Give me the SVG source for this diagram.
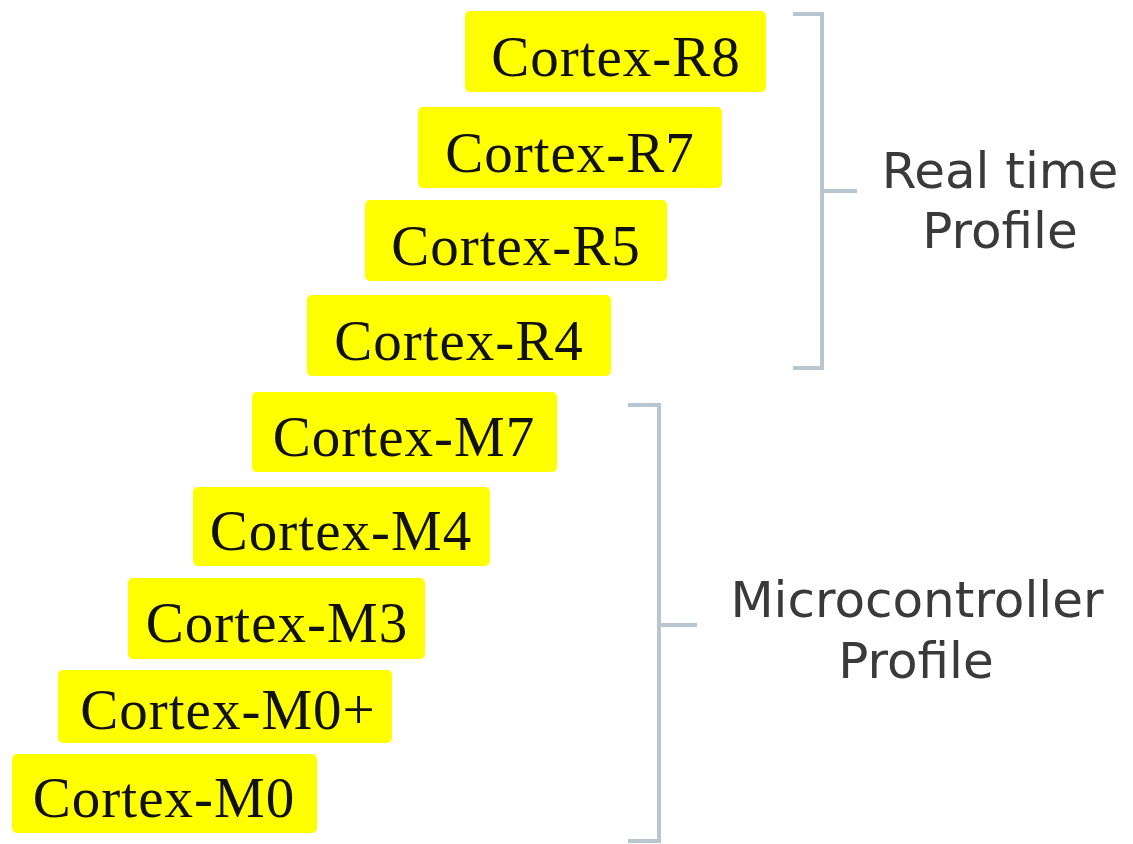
<svg xmlns="http://www.w3.org/2000/svg" width="1133" height="844" viewBox="0 0 1133 844">
<style>
.box{fill:#ffff00;}
.t{font-family:"Liberation Serif","Times New Roman",serif;font-size:57px;fill:#111;text-anchor:middle;letter-spacing:1px;}
.lbl{font-family:"DejaVu Sans",sans-serif;font-size:50px;fill:#3a3a3a;text-anchor:middle;}
.br{fill:none;stroke:#b8c6cf;stroke-width:4;}
</style>
<rect width="1133" height="844" fill="#ffffff"/>
<g id="cortex-r8"><rect class="box" x="465" y="11" width="301" height="81" rx="5"/><text class="t" x="616" y="76">Cortex-R8</text></g>
<g id="cortex-r7"><rect class="box" x="418" y="107" width="304" height="81" rx="5"/><text class="t" x="570" y="172">Cortex-R7</text></g>
<g id="cortex-r5"><rect class="box" x="365" y="200" width="302" height="81" rx="5"/><text class="t" x="516" y="265">Cortex-R5</text></g>
<g id="cortex-r4"><rect class="box" x="307" y="295" width="304" height="81" rx="5"/><text class="t" x="459" y="360">Cortex-R4</text></g>
<g id="cortex-m7"><rect class="box" x="252" y="392" width="305" height="80" rx="5"/><text class="t" x="404" y="456">Cortex-M7</text></g>
<g id="cortex-m4"><rect class="box" x="193" y="487" width="297" height="79" rx="5"/><text class="t" x="341" y="550">Cortex-M4</text></g>
<g id="cortex-m3"><rect class="box" x="128" y="578" width="297" height="81" rx="5"/><text class="t" x="277" y="642">Cortex-M3</text></g>
<g id="cortex-m0plus"><rect class="box" x="58" y="670" width="334" height="73" rx="5"/><text class="t" x="228" y="729">Cortex-M0+</text></g>
<g id="cortex-m0"><rect class="box" x="12" y="754" width="305" height="79" rx="5"/><text class="t" x="164" y="817">Cortex-M0</text></g>
<g id="connectors">
<path class="br" d="M793,14 H822 V368 H793 M822,191 H857"/>
<path class="br" d="M628,405 H659 V841 H628 M659,625 H697"/>
</g>
<g id="real-time-label"><text class="lbl" x="1000" y="188">Real time</text><text class="lbl" x="1000" y="248">Profile</text></g>
<g id="microcontroller-label"><text class="lbl" x="917" y="617">Microcontroller</text><text class="lbl" x="916" y="678">Profile</text></g>
</svg>
